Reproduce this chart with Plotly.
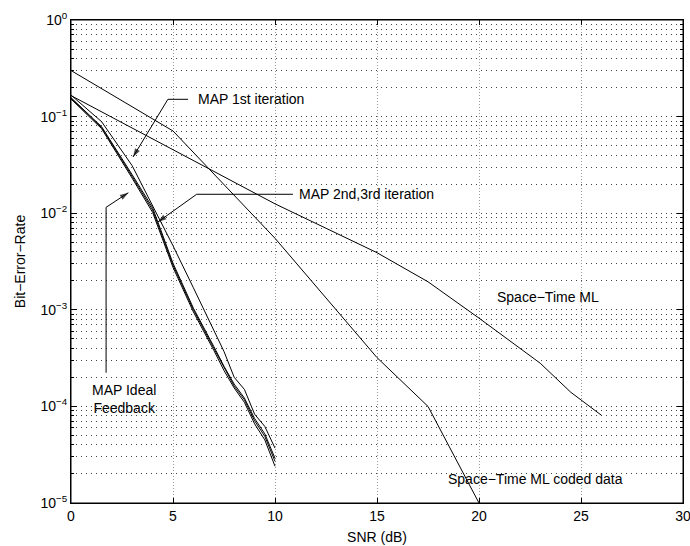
import plotly.graph_objects as go

# ---------------- data ----------------
snr_st_coded = [0, 5, 10, 15, 17.5, 20]
ber_st_coded = [0.30, 0.071, 5.5e-3, 3.2e-4, 1.0e-4, 1.0e-5]

snr_st_ml = [0, 5, 10, 15, 17.5, 20, 23, 24.5, 26]
ber_st_ml = [0.165, 0.045, 0.0125, 3.9e-3, 1.95e-3, 8.2e-4, 2.8e-4, 1.4e-4, 8.1e-5]

snr_map = [0, 1.5, 3, 4, 5, 6, 7, 7.5, 8, 8.5, 9, 9.5, 10]
ber_map_1st = [0.167, 0.0886, 0.031, 0.0121, 4.6e-3, 1.69e-3, 6.2e-4, 3.7e-4, 2.0e-4, 1.5e-4, 8.3e-5, 6.2e-5, 3.7e-5]
ber_map_2nd = [0.157, 0.0786, 0.025, 0.0114, 3.03e-3, 1.04e-3, 4.17e-4, 2.6e-4, 1.7e-4, 1.22e-4, 7.5e-5, 5.2e-5, 2.9e-5]
ber_map_3rd = [0.155, 0.0770, 0.0240, 0.0108, 2.90e-3, 1.00e-3, 4.00e-4, 2.5e-4, 1.62e-4, 1.17e-4, 7.1e-5, 4.9e-5, 2.7e-5]
ber_map_ideal = [0.152, 0.0750, 0.0230, 0.0102, 2.75e-3, 0.95e-3, 3.80e-4, 2.35e-4, 1.55e-4, 1.10e-4, 6.6e-5, 4.5e-5, 2.4e-5]

x_ticks = [0, 5, 10, 15, 20, 25, 30]
y_exponents = [-5, -4, -3, -2, -1, 0]

FONT = "Liberation Sans, Arial, Helvetica, sans-serif"
FS = 14

fig = go.Figure()

series = [
    (snr_st_coded, ber_st_coded, "Space-Time ML coded data"),
    (snr_st_ml, ber_st_ml, "Space-Time ML"),
    (snr_map, ber_map_1st, "MAP 1st iteration"),
    (snr_map, ber_map_2nd, "MAP 2nd iteration"),
    (snr_map, ber_map_3rd, "MAP 3rd iteration"),
    (snr_map, ber_map_ideal, "MAP Ideal Feedback"),
]
for xs, ys, name in series:
    fig.add_trace(go.Scatter(x=xs, y=ys, mode="lines", name=name,
                             line=dict(color="black", width=1), showlegend=False,
                             hoverinfo="x+y+name"))

# ---------------- callouts (line with elbow + arrowhead) ----------------
callouts = [
    ([5.74, 4.75, 3.04], [10 ** -0.821, 10 ** -0.821, 10 ** -1.418]),
    ([10.88, 6.16, 4.26], [10 ** -1.804, 10 ** -1.804, 10 ** -2.091]),
    ([1.72, 1.72, 2.81], [10 ** -3.651, 10 ** -1.939, 10 ** -1.788]),
]
for xs, ys in callouts:
    fig.add_trace(go.Scatter(
        x=xs, y=ys, mode="lines+markers", showlegend=False, hoverinfo="skip",
        line=dict(color="black", width=1),
        marker=dict(symbol="arrow", angleref="previous", size=[0] * (len(xs) - 1) + [9],
                    color="black", line=dict(width=0)),
    ))

minor_vals = [k * 10.0 ** e for e in range(-5, 0) for k in range(2, 10)]
tfont = dict(family=FONT, size=FS, color="black")

fig.update_xaxes(
    range=[0, 30], tickvals=x_ticks, ticks="inside", ticklen=5, tickcolor="black",
    showline=True, linecolor="black", linewidth=1, mirror="allticks",
    showgrid=True, gridcolor="#9a9a9a", griddash="1px,2px", gridwidth=1,
    zeroline=False, automargin=False, ticklabeloverflow="allow",
    tickfont=tfont,
    title=dict(text="SNR (dB)", font=tfont, standoff=9),
)
fig.update_yaxes(
    type="log", range=[-5, 0],
    tickvals=[10.0 ** e for e in y_exponents],
    ticktext=["10<sup>%s</sup>" % (("\u2212%d" % -e) if e < 0 else str(e)) for e in y_exponents],
    ticks="inside", ticklen=6, tickcolor="black",
    showline=True, linecolor="black", linewidth=1, mirror="allticks",
    showgrid=True, gridcolor="#444444", griddash="1px,4px", gridwidth=1,
    zeroline=False, automargin=False, ticklabeloverflow="allow",
    minor=dict(tickvals=minor_vals, ticks="inside", ticklen=3, tickcolor="black",
               showgrid=True, gridcolor="#444444", griddash="1px,4px", gridwidth=1),
    tickfont=tfont,
    title=dict(text="Bit\u2212Error\u2212Rate", font=tfont, standoff=11),
)

ann = []

def label(x, y, text, xanchor="left"):
    ann.append(dict(x=x, y=y, xref="x", yref="y", text=text, showarrow=False,
                    xanchor=xanchor, yanchor="middle", font=tfont, align="center"))

label(6.13, -0.821, "MAP 1st iteration")
label(11.08, -1.804, "MAP 2nd,3rd iteration")
label(2.6, -3.92, "MAP Ideal<br>Feedback", xanchor="center")
label(20.78, -2.864, "Space\u2212Time ML")
label(18.38, -4.75, "Space\u2212Time ML coded data")

fig.update_layout(
    width=690, height=546,
    margin=dict(l=71, r=7, t=20, b=43),
    paper_bgcolor="white", plot_bgcolor="white",
    font=dict(family=FONT, size=FS, color="black"),
    annotations=ann,
    shapes=[dict(type="rect", xref="paper", yref="paper", x0=0, y0=0, x1=1, y1=1,
                 line=dict(color="black", width=1), fillcolor="rgba(0,0,0,0)", layer="above")],
    showlegend=False,
)

fig.write_html(
    "out.html",
    config={"displayModeBar": False},
    post_script="document.body.style.margin='0';document.body.style.overflow='hidden';",
)
